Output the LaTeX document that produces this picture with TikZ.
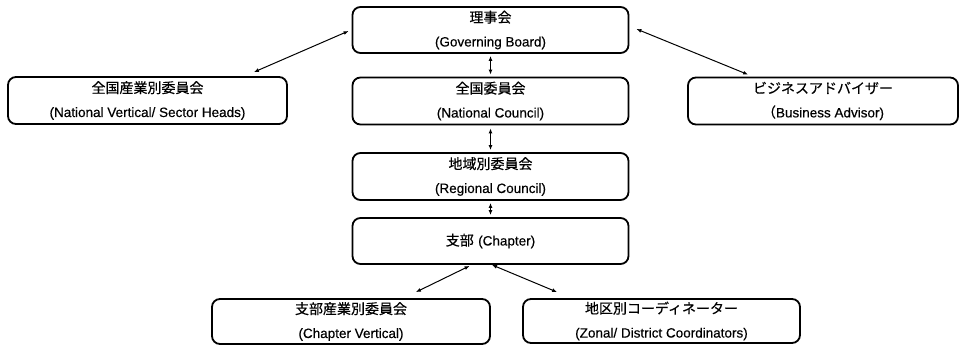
\documentclass[tikz,border=0pt]{standalone}
\usepackage{fontspec}
\usetikzlibrary{arrows.meta}
\newfontfamily\jpf{Noto Sans CJK JP}[FakeBold=0.4]
\newfontfamily\enf{Liberation Sans}[FakeBold=0.4]
\newcommand\jpt[1]{{\jpf\fontsize{14}{24}\selectfont #1}}
\newcommand\ent[1]{{\enf\fontsize{13.5}{24}\selectfont #1}}
\begin{document}
\begin{tikzpicture}[x=1pt,y=-1pt,
  box/.style={draw=black, line width=1.8pt, rounded corners=8pt, inner sep=0pt,
    minimum width=#1, minimum height=46pt, align=center,
    font=\fontsize{13.5}{24}\selectfont},
  box/.default=276pt,
  arr/.style={line width=1pt, {Latex[length=5pt,width=4pt]}-{Latex[length=5pt,width=4pt]}}]
\useasboundingbox (0,0) rectangle (962,345);
\node[box] (gb) at (490.5,30) {\jpt{理事会}\\\ent{(Governing Board)}};
\node[box, minimum height=47pt] (nc) at (490.5,101) {\jpt{全国委員会}\\\ent{(National Council)}};
\node[box=279pt, minimum height=47pt] (nv) at (147.5,100.5) {\jpt{全国産業別委員会}\\\ent{(National Vertical/ Sector Heads)}};
\node[box=270pt, minimum height=47pt] (ba) at (823,101) {\jpt{ビジネスアドバイザー}\\\jpt{（}\ent{Business Advisor)}};
\node[box, minimum height=47pt] (rc) at (490.5,176.5) {\jpt{地域別委員会}\\\ent{(Regional Council)}};
\node[box] (ch) at (490.5,241) {\jpt{支部} \ent{(Chapter)}};
\node[box=278pt, minimum height=45pt] (cv) at (351,321.5) {\jpt{支部産業別委員会}\\\ent{(Chapter Vertical)}};
\node[box=277pt, minimum height=44pt] (zd) at (661.5,321) {\jpt{地区別コーディネーター}\\\ent{(Zonal/ District Coordinators)}};
\draw[arr] ([xshift=-3pt,yshift=-1pt]gb.west) -- ([xshift=-34pt,yshift=4pt]nv.north east);
\draw[arr] ([xshift=7pt,yshift=1pt]gb.east) -- ([xshift=61pt,yshift=2pt]ba.north west);
\draw[arr] ([yshift=-2pt]gb.south) -- ([yshift=2pt]nc.north);
\draw[arr] ([yshift=-3pt]nc.south) -- ([yshift=2pt]rc.north);
\draw[arr] ([yshift=-2pt]rc.south) -- ([yshift=2pt]ch.north);
\draw[arr] ([xshift=118pt,yshift=-1pt]ch.south west) -- ([xshift=-75pt,yshift=6pt]cv.north east);
\draw[arr] ([xshift=1.5pt]ch.south) -- ([xshift=35pt,yshift=6pt]zd.north west);
\end{tikzpicture}
\end{document}
